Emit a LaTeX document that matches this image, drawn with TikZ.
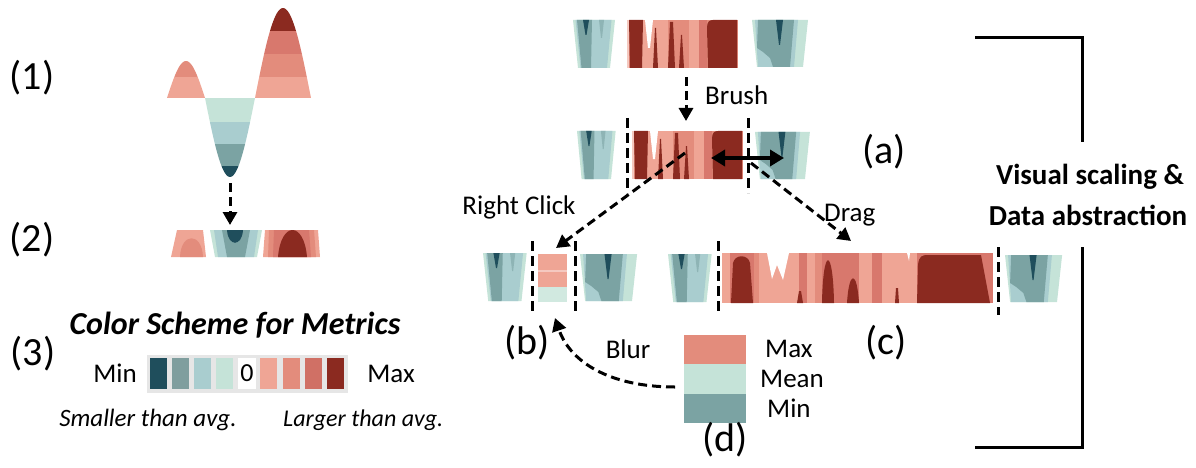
\documentclass[tikz,border=0pt]{standalone}
\usepackage{fontspec}
\setmainfont{Carlito}
\usetikzlibrary{arrows.meta}
\definecolor{tdark}{HTML}{1F4E5C}
\definecolor{tgray}{HTML}{7F9E9E}
\definecolor{tmid}{HTML}{7BA3A3}
\definecolor{tlight}{HTML}{A9CDCF}
\definecolor{mint}{HTML}{C5E3D8}
\definecolor{rlight}{HTML}{EFA595}
\definecolor{rmid}{HTML}{E38C7C}
\definecolor{rmidd}{HTML}{D8786D}
\definecolor{rdark}{HTML}{8B2A20}
\definecolor{legbg}{HTML}{E6E6E6}
\newcommand{\myfs}[1]{\fontsize{#1}{#1}\selectfont}
\newcommand{\tglA}[3]{%
\begin{scope}[shift={(#1,#2)},xscale=#3]
\fill[mint] (0,0)--(42,0)--(37,48)--(5,48)--cycle;
\fill[tlight] (2.5,0)--(38.5,0)--(34,48)--(7.5,48)--cycle;
\fill[tmid] (4,0)--(19,0)--(18,48)--(8.5,48)--cycle;
\fill[tmid!60!tlight] (26,0)--(31,0)--(29,18)--(28,18)--cycle;
\fill[tdark] (10,0)--(16,0)--(13.5,15)--(12.5,15)--cycle;
\end{scope}}
\newcommand{\tglB}[3]{%
\begin{scope}[shift={(#1,#2)},xscale=#3]
\fill[mint] (0,0)--(56,0)--(51,47)--(5,47)--cycle;
\fill[tlight] (3,0)--(46,0)--(42,47)--(6,47)--cycle;
\fill[tmid] (6,0)--(42,0)--(38,47)--(21,47)--(18,38)--(11,32)--(5,28)--cycle;
\fill[tdark] (24,0)--(31,0)--(28,25)--(27,25)--cycle;
\end{scope}}
\newcommand{\redA}[2]{%
\begin{scope}[shift={(#1,#2)}]
\fill[rmid] (0,0) rectangle (111,48);
\fill[rlight] (15,0) rectangle (41,48);
\fill[rlight] (62,0) rectangle (72,48);
\fill[rmidd] (72,0) rectangle (80,48);
\fill[rlight!60!white] (0,0) rectangle (2,48);
\fill[rdark] (2,0)--(16,0)--(15,48)--(3,48)--cycle;
\fill[white] (18,0)--(26,0)--(23,28)--(21,28)--cycle;
\fill[rdark] (26,48)--(31,48)--(29,8)--(28,8)--cycle;
\fill[rdark] (41,48)--(48,48)--(46,2)--(43,2)--cycle;
\fill[rdark] (52,48)--(57,48)--(55,15)--(54,15)--cycle;
\fill[rdark] (81,48)--(80,8) .. controls (80,2) and (82,0) .. (86,0)--(110,0)--(110,48)--cycle;
\end{scope}}
\tikzset{
 lbl/.style={inner sep=0pt, font=\myfs{27}},
 plbl/.style={inner sep=0pt, font=\myfs{40}},
 dasharrow/.style={line width=3pt, dash pattern=on 9pt off 5pt, -{Triangle[length=13pt,width=14pt]}},
 vdash/.style={line width=3pt, dash pattern=on 10pt off 5pt},
 brk/.style={line width=3pt},
 swatch/.style={minimum width=17pt, minimum height=31pt, inner sep=0pt, draw=none},
}
\begin{document}
\begin{tikzpicture}[x=1pt,y=-1pt]
\useasboundingbox (0,0) rectangle (1196,468);
% ---------- (1) wave
\begin{scope}
\clip plot[domain=0:180,samples=50] ({167+38*\x/180},{98-37*sin(\x)}) -- cycle;
\fill[rlight] (160,77) rectangle (210,99);
\fill[rmid] (160,40) rectangle (210,77);
\end{scope}
\begin{scope}
\clip plot[domain=0:180,samples=50] ({205+50*\x/180},{98+79*sin(\x)}) -- cycle;
\fill[mint] (200,98) rectangle (260,122);
\fill[tlight] (200,122) rectangle (260,144);
\fill[tmid] (200,144) rectangle (260,166);
\fill[tdark] (200,166) rectangle (260,180);
\end{scope}
\begin{scope}
\clip plot[domain=0:180,samples=50] ({255+56*\x/180},{98-90*sin(\x)}) -- cycle;
\fill[rlight] (250,77) rectangle (315,99);
\fill[rmid] (250,54) rectangle (315,77);
\fill[rmidd] (250,31) rectangle (315,54);
\fill[rdark] (250,5) rectangle (315,31);
\end{scope}
\coordinate (w1) at (230,183);
\coordinate (w2) at (230,225);
\draw[dasharrow] (w1) -- (w2);
% ---------- (2) strip
\fill[rlight] (177,230)--(203,230)--(206,257)--(171,257)--cycle;
\fill[rmid] (180,257) .. controls (181,232) and (202,232) .. (203,257)--cycle;
\fill[mint] (210,230)--(262,230)--(257,257)--(215,257)--cycle;
\fill[tlight] (214,230)--(258,230)--(254,257)--(218,257)--cycle;
\fill[tmid] (222,230)--(250,230)--(245,257)--(227,257)--cycle;
\fill[tdark] (227,230) .. controls (228,247) and (242,247) .. (243,230)--cycle;
\fill[rlight] (265,230)--(318,230)--(320,257)--(263,257)--cycle;
\fill[rmid] (269,230)--(314,230)--(316,257)--(268,257)--cycle;
\fill[rmidd] (274,230)--(309,230)--(311,257)--(273,257)--cycle;
\fill[rdark] (278,257) .. controls (281,221) and (304,221) .. (307,257)--cycle;
% ---------- labels left
\node[plbl] (l1) at (32,78) {(1)};
\node[plbl] (l2) at (32,240) {(2)};
\node[plbl] (l3) at (33,354) {(3)};
\node[inner sep=0pt, font=\myfs{32}\bfseries\itshape] (cst) at (235,325) {Color Scheme for Metrics};
\fill[legbg] (147,355) rectangle (348,393);
\node[swatch, fill=tdark] (s1) at (158.5,373.5) {};
\node[swatch, fill=tgray] (s2) at (180,373.5) {};
\node[swatch, fill=tlight] (s3) at (202,373.5) {};
\node[swatch, fill=mint] (s4) at (224.5,373.5) {};
\node[swatch, fill=white, minimum width=18pt, font=\myfs{26}] (s5) at (247,373.5) {0};
\node[swatch, fill=rlight] (s6) at (268.5,373.5) {};
\node[swatch, fill=rmid] (s7) at (291,373.5) {};
\node[swatch, fill=rmidd!90!rdark] (s8) at (313.5,373.5) {};
\node[swatch, fill=rdark] (s9) at (335.5,373.5) {};
\node[lbl, anchor=base] (lmin) at (115,382) {Min};
\node[lbl, anchor=base] (lmax) at (391,382) {Max};
\node[inner sep=0pt, anchor=base, font=\myfs{25}\itshape] (sm) at (148,426) {Smaller than avg.};
\node[inner sep=0pt, anchor=base west, font=\myfs{24}\itshape] (lg) at (283,426) {Larger than avg.};
% ---------- row 1
\tglA{573}{20}{1}
\redA{627}{20}
\tglB{752}{20}{1}
% ---------- row 2
\tglA{577}{131}{0.92}
\redA{632}{131}
\tglB{755}{132}{0.98}
% ---------- row 3
\tglA{483}{253}{1.04}
\fill[rlight] (538,254) rectangle (567,270);
\fill[rlight!60!white] (538,270) rectangle (567,272);
\fill[rlight] (538,272) rectangle (567,287);
\fill[mint!80!white] (538,287) rectangle (567,302);
\tglB{580}{254}{1.02}
\tglA{668}{254}{1.04}
\begin{scope}[shift={(722,253)}]
\fill[rmidd] (0,0) rectangle (271,50);
\fill[rlight] (0,0) rectangle (8,50);
\fill[rmid] (32,0) rectangle (37,50);
\fill[rlight] (37,0) rectangle (77,50);
\fill[rlight] (85,0) rectangle (93,50);
\fill[rmid] (93,0) rectangle (100,50);
\fill[rlight] (137,0) rectangle (150,50);
\fill[rlight] (160,0) rectangle (195,50);
\fill[white] (45,0)--(50,26)--(55,12)--(61,27)--(67,0)--cycle;
\fill[white] (185,0)--(188,0)--(187,8)--cycle;
\fill[rdark] (9,50)--(11,10) .. controls (13,1) and (26,1) .. (28,10)--(31,50)--cycle;
\fill[rdark] (75,50)--(81,50)--(79,38)--(77,38)--cycle;
\fill[rdark] (100,50) .. controls (101,-7) and (111,-7) .. (112,50)--cycle;
\fill[rdark] (125,50) .. controls (127,17) and (135,17) .. (137,50)--cycle;
\fill[rdark] (173,50)--(177,50)--(176,35)--(174,35)--cycle;
\fill[rdark] (195,50)--(196,12) .. controls (197,3) and (200,2) .. (206,2)--(259,2)--(268,50)--cycle;
\end{scope}
\tglB{1005}{255}{1.02}
% ---------- dashed separators
\draw[vdash] (627,118) -- (627,193);
\draw[vdash] (748,118) -- (748,193);
\draw[vdash] (532,241) -- (532,315);
\draw[vdash] (575,241) -- (575,315);
\draw[vdash] (718,241) -- (718,315);
\draw[vdash] (998,247) -- (998,315);
% ---------- arrows
\coordinate (b1) at (686,77);
\coordinate (b2) at (686,121);
\draw[dasharrow] (b1) -- (b2);
\node[lbl, anchor=base west] (brush) at (705,105) {Brush};
\coordinate (da1) at (711,158);
\coordinate (da2) at (784,158);
\draw[line width=3.5pt, {Triangle[length=14pt,width=16pt]}-{Triangle[length=14pt,width=16pt]}] (da1) -- (da2);
\node[plbl] (la) at (884,152) {(a)};
\coordinate (rc1) at (685,153);
\coordinate (rc2) at (556,248);
\draw[dasharrow] (rc1) -- (rc2);
\node[lbl, anchor=base] (rclick) at (519,214) {Right Click};
\coordinate (dr1) at (751,163);
\coordinate (dr2) at (851,241);
\draw[dasharrow] (dr1) -- (dr2);
\node[lbl, anchor=base west] (drag) at (824,221) {Drag};
\node[plbl] (lb) at (527,343) {(b)};
\node[plbl] (lc) at (886,343) {(c)};
% ---------- (d)
\fill[rmid] (684,335) rectangle (746,364);
\fill[mint] (684,364) rectangle (746,394);
\fill[tmid] (684,394) rectangle (746,423);
\node[lbl, anchor=base west] (dmax) at (765,357) {Max};
\node[lbl, anchor=base west] (dmean) at (760,387) {Mean};
\node[lbl, anchor=base west] (dmin) at (767,417) {Min};
\node[plbl] (ld) at (725,440) {(d)};
\coordinate (bl1) at (675,387);
\coordinate (bl2) at (555,318);
\draw[dasharrow] (bl1) .. controls (610,387) and (570,362) .. (bl2);
\node[lbl, anchor=base] (blur) at (628,358) {Blur};
% ---------- bracket
\coordinate (k1) at (975,38);
\coordinate (k2) at (1082,38);
\coordinate (k3) at (1082,142);
\coordinate (k4) at (1082,247);
\coordinate (k5) at (1082,447);
\coordinate (k6) at (975,447);
\draw[brk] (k1) -- (k2) -- (k3);
\draw[brk] (k4) -- (k5) -- (k6);
\node[inner sep=0pt, font=\myfs{29}\bfseries] (vs1) at (1090,177) {Visual scaling \&};
\node[inner sep=0pt, font=\myfs{29}\bfseries] (vs2) at (1088,215) {Data abstraction};
\end{tikzpicture}
\end{document}
